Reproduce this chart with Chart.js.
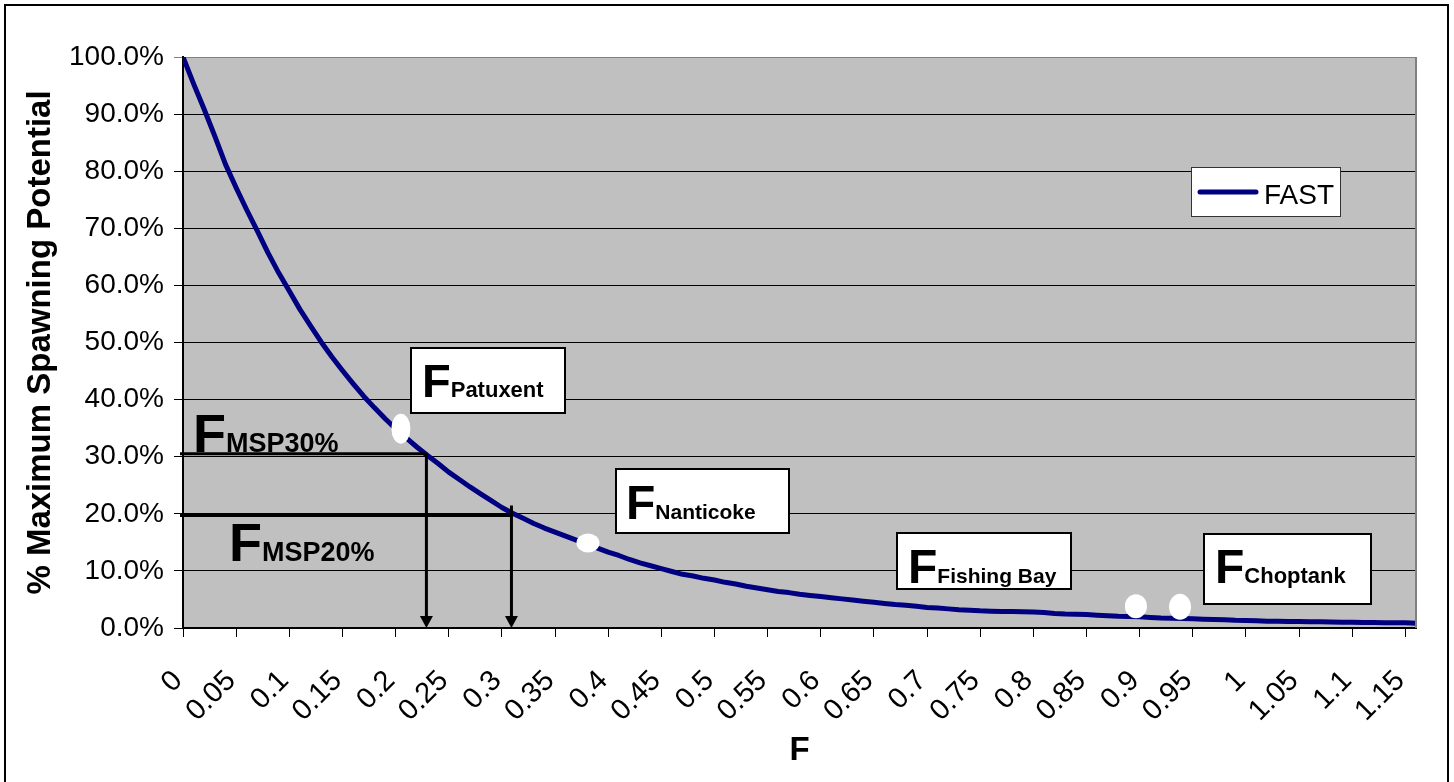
<!DOCTYPE html>
<html>
<head>
<meta charset="utf-8">
<script src="https://cdn.jsdelivr.net/npm/chart.js@4.4.1/dist/chart.umd.min.js"></script>
<style>
  body { margin: 0; background: #fff; }
  canvas { display: block; }
</style>
</head>
<body>
<canvas id="sprChart" width="1454" height="782"></canvas>
<script>
// fishing mortality F (x) and % maximum spawning potential (y)
const fValues = [
  0, 0.01, 0.02, 0.03, 0.04, 0.05, 0.06, 0.07, 0.08, 0.09,
  0.1, 0.11, 0.12, 0.13, 0.14, 0.15, 0.16, 0.17, 0.18, 0.19,
  0.2, 0.21, 0.22, 0.23, 0.24, 0.25, 0.26, 0.27, 0.28, 0.29,
  0.3, 0.31, 0.32, 0.33, 0.34, 0.35, 0.36, 0.37, 0.38, 0.39,
  0.4, 0.41, 0.42, 0.43, 0.44, 0.45, 0.46, 0.47, 0.48, 0.49,
  0.5, 0.51, 0.52, 0.53, 0.54, 0.55, 0.56, 0.57, 0.58, 0.59,
  0.6, 0.61, 0.62, 0.63, 0.64, 0.65, 0.66, 0.67, 0.68, 0.69,
  0.7, 0.71, 0.72, 0.73, 0.74, 0.75, 0.76, 0.77, 0.78, 0.79,
  0.8, 0.81, 0.82, 0.83, 0.84, 0.85, 0.86, 0.87, 0.88, 0.89,
  0.9, 0.91, 0.92, 0.93, 0.94, 0.95, 0.96, 0.97, 0.98, 0.99,
  1, 1.01, 1.02, 1.03, 1.04, 1.05, 1.06, 1.07, 1.08, 1.09,
  1.1, 1.11, 1.12, 1.13, 1.14, 1.15, 1.16
];
const spawnPct = [
  100, 95.3, 90.8, 86.1, 81.2, 77.1, 73.2, 69.5, 65.7, 62.2,
  59.0, 55.8, 52.9, 50.1, 47.5, 45.1, 42.8, 40.6, 38.6, 36.7,
  34.9, 33.3, 31.7, 30.2, 28.8, 27.3, 26.0, 24.7, 23.5, 22.3,
  21.1, 20.1, 19.2, 18.3, 17.5, 16.8, 16.1, 15.4, 14.7, 14.0,
  13.3, 12.7, 12.0, 11.4, 10.9, 10.4, 9.9, 9.4, 9.1, 8.7,
  8.4, 8.0, 7.7, 7.3, 7.0, 6.7, 6.4, 6.2, 5.9, 5.7,
  5.5, 5.3, 5.1, 4.9, 4.7, 4.5, 4.3, 4.1, 4.0, 3.8,
  3.6, 3.5, 3.35, 3.2, 3.1, 3.0, 2.95, 2.9, 2.9, 2.85,
  2.8, 2.7, 2.55, 2.45, 2.4, 2.35, 2.25, 2.15, 2.05, 2.0,
  1.95, 1.85, 1.75, 1.7, 1.65, 1.6, 1.55, 1.5, 1.45, 1.35,
  1.3, 1.25, 1.2, 1.2, 1.15, 1.15, 1.1, 1.1, 1.05, 1.0,
  1.0, 0.95, 0.95, 0.9, 0.9, 0.9, 0.85
];

// white markers on the curve (Patuxent, Nanticoke, Fishing Bay, Choptank)
const markerF = [0.205, 0.381, 0.8965, 0.938];
const markerPct = [34.9, 14.9, 3.8, 3.7];

// reference points F MSP30% and F MSP20%
const refF = [0.229, 0.309];
const refPct = [30.5, 19.7];

const FONT = "'Liberation Sans', Arial, sans-serif";

function drawSubLabel(ctx, x, y, big, bigSize, small, smallSize) {
  ctx.fillStyle = '#000';
  ctx.textBaseline = 'alphabetic';
  ctx.textAlign = 'left';
  ctx.font = 'bold ' + bigSize + 'px ' + FONT;
  ctx.fillText(big, x, y);
  const w = ctx.measureText(big).width;
  ctx.font = 'bold ' + smallSize + 'px ' + FONT;
  ctx.fillText(small, x + w, y);
}

function box(ctx, x1, y1, x2, y2) {
  ctx.fillStyle = '#fff';
  ctx.fillRect(x1, y1, x2 - x1, y2 - y1);
  ctx.strokeStyle = '#000';
  ctx.lineWidth = 2;
  ctx.strokeRect(x1, y1, x2 - x1, y2 - y1);
}

const decorPlugin = {
  id: 'decor',
  beforeDraw(chart) {
    const { ctx, chartArea: a } = chart;
    ctx.save();
    ctx.fillStyle = '#fff';
    ctx.fillRect(0, 0, chart.width, chart.height);
    ctx.fillStyle = '#c0c0c0';
    ctx.fillRect(a.left, a.top, a.right - a.left, a.bottom - a.top);
    ctx.strokeStyle = '#000';
    ctx.lineWidth = 2;
    ctx.strokeRect(5, 5, chart.width - 11, chart.height - 4);
    ctx.restore();
  },
  afterDatasetsDraw(chart) {
    const { ctx, chartArea: a } = chart;
    const xs = chart.scales.x, ys = chart.scales.y;
    ctx.save();

    // plot border right side
    ctx.strokeStyle = '#808080';
    ctx.lineWidth = 2;
    ctx.beginPath();
    ctx.moveTo(a.right, a.top);
    ctx.lineTo(a.right, a.bottom);
    ctx.stroke();

    // marker ellipses
    const sizes = [[9.5, 15], [11.5, 9.5], [11, 12], [11, 13]];
    ctx.fillStyle = '#fff';
    markerF.forEach((f, i) => {
      ctx.beginPath();
      ctx.ellipse(xs.getPixelForValue(f), ys.getPixelForValue(markerPct[i]), sizes[i][0], sizes[i][1], 0, 0, Math.PI * 2);
      ctx.fill();
    });

    // reference lines with arrows
    ctx.strokeStyle = '#000';
    ctx.fillStyle = '#000';
    ctx.lineWidth = 3;
    refF.forEach((f, i) => {
      const px = xs.getPixelForValue(f);
      const py = ys.getPixelForValue(refPct[i]);
      ctx.beginPath();
      ctx.moveTo(a.left - 3, py);
      ctx.lineTo(px, py);
      ctx.moveTo(px, i === 1 ? py - 10 : py);
      ctx.lineTo(px, a.bottom - 10);
      ctx.stroke();
      ctx.beginPath();
      ctx.moveTo(px - 6.5, a.bottom - 12);
      ctx.lineTo(px + 6.5, a.bottom - 12);
      ctx.lineTo(px, a.bottom);
      ctx.closePath();
      ctx.fill();
    });

    // text labels
    drawSubLabel(ctx, 193, 452, 'F', 54, 'MSP30%', 27);
    drawSubLabel(ctx, 229, 561, 'F', 54, 'MSP20%', 27);

    box(ctx, 411, 348, 565, 413);
    drawSubLabel(ctx, 422, 397, 'F', 47, 'Patuxent', 22);
    box(ctx, 616, 469, 789, 533);
    drawSubLabel(ctx, 626, 519, 'F', 48, 'Nanticoke', 21);
    box(ctx, 897, 533, 1071, 589);
    drawSubLabel(ctx, 908, 583, 'F', 48, 'Fishing Bay', 21);
    box(ctx, 1204, 534, 1371, 604);
    drawSubLabel(ctx, 1215, 583, 'F', 48, 'Choptank', 22);

    // legend
    ctx.fillStyle = '#fff';
    ctx.fillRect(1191, 167, 149, 49);
    ctx.strokeStyle = '#333';
    ctx.lineWidth = 1;
    ctx.strokeRect(1191.5, 167.5, 149, 49);
    const ds = chart.data.datasets[0];
    ctx.strokeStyle = ds.borderColor;
    ctx.lineWidth = 5;
    ctx.lineCap = 'round';
    ctx.beginPath();
    ctx.moveTo(1200, 192);
    ctx.lineTo(1256, 192);
    ctx.stroke();
    ctx.fillStyle = '#000';
    ctx.font = '28px ' + FONT;
    ctx.textAlign = 'left';
    ctx.textBaseline = 'alphabetic';
    ctx.fillText(ds.label, 1264, 204);

    ctx.restore();
  }
};

const points = fValues.map((f, i) => ({ x: f, y: spawnPct[i] }));

new Chart(document.getElementById('sprChart').getContext('2d'), {
  type: 'line',
  data: {
    datasets: [{
      label: 'FAST',
      data: points,
      borderColor: '#000080',
      borderWidth: 5,
      pointRadius: 0,
      tension: 0,
      borderJoinStyle: 'round',
      borderCapStyle: 'round'
    }]
  },
  options: {
    responsive: false,
    animation: false,
    devicePixelRatio: 1,
    layout: { padding: { left: 10, top: 57, right: 38, bottom: 0 } },
    plugins: {
      legend: { display: false },
      tooltip: { enabled: false }
    },
    scales: {
      x: {
        type: 'linear',
        min: 0,
        max: 1.16,
        afterFit: (s) => {
          s.height = 154;
          s.paddingLeft = 0;
          s.paddingRight = 0;
        },
        grid: { drawOnChartArea: false, color: '#000', tickLength: 9, lineWidth: 1 },
        border: { color: '#000', width: 2 },
        ticks: {
          stepSize: 0.05,
          includeBounds: false,
          autoSkip: false,
          minRotation: 45,
          maxRotation: 45,
          padding: 27,
          labelOffset: -5,
          color: '#000',
          font: { family: FONT, size: 29 },
          callback: (v) => String(+v.toFixed(2))
        },
        title: {
          display: true,
          text: 'F',
          color: '#000',
          font: { family: FONT, size: 33, weight: 'bold' },
          padding: { top: 0, bottom: 11 }
        }
      },
      y: {
        min: 0,
        max: 100,
        afterFit: (s) => { s.width = 173; },
        grid: {
          color: (c) => (c.tick && c.tick.value === 100 ? '#808080' : '#000'),
          tickLength: 9,
          lineWidth: 1
        },
        border: { color: '#000', width: 2 },
        ticks: {
          stepSize: 10,
          padding: 10,
          color: '#000',
          font: { family: FONT, size: 28 },
          callback: (v) => v.toFixed(1) + '%'
        },
        title: {
          display: true,
          text: '% Maximum Spawning Potential',
          color: '#000',
          font: { family: FONT, size: 33, weight: 'bold' },
          padding: { top: 11, bottom: 0 }
        }
      }
    }
  },
  plugins: [decorPlugin]
});
</script>
</body>
</html>
